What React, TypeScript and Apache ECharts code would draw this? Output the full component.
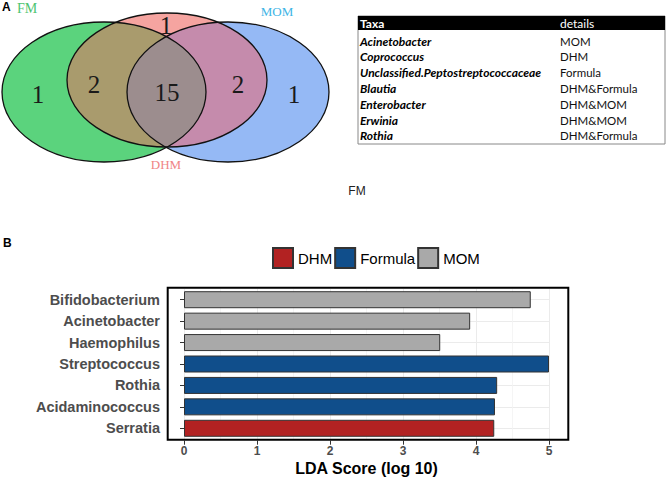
import React, { useEffect, useRef } from "react";
import * as echarts from "echarts";

// ---------- Data ----------
const taxa = ["Bifidobacterium", "Acinetobacter", "Haemophilus", "Streptococcus", "Rothia", "Acidaminococcus", "Serratia"];
const taxaGroup = ["MOM", "MOM", "MOM", "Formula", "Formula", "Formula", "DHM"];
const ldaScores = [4.75, 3.92, 3.51, 5.0, 4.29, 4.26, 4.25];
const groups = ["DHM", "Formula", "MOM"];
const groupColors = ["#B22222", "#104E8B", "#A9A9A9"];
const xTicks = [0, 1, 2, 3, 4, 5];

const tableTaxa = ["Acinetobacter", "Coprococcus", "Unclassified.Peptostreptococcaceae", "Blautia", "Enterobacter", "Erwinia", "Rothia"];
const tableDetails = ["MOM", "DHM", "Formula", "DHM&Formula", "DHM&MOM", "DHM&MOM", "DHM&Formula"];
const tableHeader = ["Taxa", "details"];

const vennSets = ["FM", "DHM", "MOM"];
const vennCounts = { fmOnly: 1, fmDhm: 2, all: 15, dhmMom: 2, momOnly: 1, dhmOnly: 1 };

// ---------- Venn geometry helpers ----------
type Ell = { cx: number; cy: number; rx: number; ry: number };
const EG: Ell = { cx: 104, cy: 92, rx: 102, ry: 70 }; // FM
const EP: Ell = { cx: 167, cy: 80, rx: 100, ry: 67 }; // DHM
const EB: Ell = { cx: 228, cy: 92, rx: 101, ry: 70 }; // MOM

function inside(e: Ell, p: number[]) {
  const dx = (p[0] - e.cx) / e.rx;
  const dy = (p[1] - e.cy) / e.ry;
  return dx * dx + dy * dy <= 1.0000001;
}
function boundary(e: Ell, n = 720) {
  const pts: number[][] = [];
  for (let i = 0; i < n; i++) {
    const t = (i / n) * Math.PI * 2;
    pts.push([e.cx + e.rx * Math.cos(t), e.cy + e.ry * Math.sin(t)]);
  }
  return pts;
}
function intersection(list: Ell[]) {
  let pts: number[][] = [];
  list.forEach((e, i) => {
    const others = list.filter((_, j) => j !== i);
    boundary(e).forEach((p) => {
      if (others.every((o) => inside(o, p))) pts.push(p);
    });
  });
  const mx = pts.reduce((s, p) => s + p[0], 0) / pts.length;
  const my = pts.reduce((s, p) => s + p[1], 0) / pts.length;
  pts = pts.sort((a, b) => Math.atan2(a[1] - my, a[0] - mx) - Math.atan2(b[1] - my, b[0] - mx));
  return pts;
}

function ellipseEl(e: Ell, fill: string, stroke: string | null) {
  return {
    type: "ellipse",
    shape: { cx: e.cx, cy: e.cy, rx: e.rx, ry: e.ry },
    style: stroke ? { fill: "none", stroke, lineWidth: 1.3 } : { fill },
    silent: true,
  };
}
function txt(text: string, x: number, y: number, font: string, fill: string, align = "center") {
  return {
    type: "text",
    x,
    y,
    silent: true,
    style: { text, font, fill, textAlign: align, textVerticalAlign: "middle", align, verticalAlign: "middle" },
  };
}

// half-band positions for the horizontal grid lines at category centres
const halfBands = Array.from({ length: taxa.length * 2 + 1 }, (_, i) => String(i));

export default function App() {
  const ref = useRef<HTMLDivElement>(null);
  useEffect(() => {
    if (!ref.current) return;
    const chart = echarts.init(ref.current, undefined, { renderer: "svg" });

    const serif = "25px 'Liberation Serif', 'Times New Roman', serif";
    const lbl = "13px 'Liberation Serif', 'Times New Roman', serif";
    const venn: any[] = [
      ellipseEl(EG, "#5BD37D", null),
      ellipseEl(EB, "#95B9F5", null),
      ellipseEl(EP, "#F5A4A0", null),
      { type: "polygon", silent: true, shape: { points: intersection([EG, EP]) }, style: { fill: "#A99B6D" } },
      { type: "polygon", silent: true, shape: { points: intersection([EB, EP]) }, style: { fill: "#C58BAC" } },
      { type: "polygon", silent: true, shape: { points: intersection([EG, EB, EP]) }, style: { fill: "#9C8D8E" } },
      ellipseEl(EG, "", "#111"),
      ellipseEl(EB, "", "#111"),
      ellipseEl(EP, "", "#111"),
      txt(String(vennCounts.fmOnly), 38, 94, serif, "#1a1a1a"),
      txt(String(vennCounts.fmDhm), 94, 84, serif, "#1a1a1a"),
      txt(String(vennCounts.all), 167, 92, serif, "#1a1a1a"),
      txt(String(vennCounts.dhmMom), 238, 84, serif, "#1a1a1a"),
      txt(String(vennCounts.momOnly), 294, 94, serif, "#1a1a1a"),
      txt(String(vennCounts.dhmOnly), 166, 25, serif, "#1a1a1a"),
      txt(vennSets[0], 17, 8, "14px 'Liberation Serif', 'Times New Roman', serif", "#4CC470", "left"),
      txt(vennSets[1], 166, 164, lbl, "#F08585"),
      txt(vennSets[2], 277, 11, lbl, "#3DB5E6"),
      txt("A", 2, 7, "bold 12px 'Liberation Sans', Arial, sans-serif", "#000", "left"),
      txt("B", 3, 243, "bold 12px 'Liberation Sans', Arial, sans-serif", "#000", "left"),
      txt("FM", 357, 191, "12px 'Liberation Sans', Arial, sans-serif", "#222"),
    ];

    const tX = 358, tY = 16, tW = 307, headH = 14, rowH = 15.8;
    const table: any[] = [
      { type: "rect", silent: true, shape: { x: tX, y: tY, width: tW, height: 128 }, style: { fill: "#fff", stroke: "#888", lineWidth: 1 } },
      { type: "rect", silent: true, shape: { x: tX, y: tY, width: tW, height: headH }, style: { fill: "#000" } },
      txt(tableHeader[0], 360, tY + 7.5, "bold 12px Lato, sans-serif", "#fff", "left"),
      txt(tableHeader[1], 560, tY + 7.5, "12px Lato, sans-serif", "#fff", "left"),
    ];
    tableTaxa.forEach((t, i) => {
      const y = 41 + i * rowH;
      table.push(txt(t, 360, y, "italic bold 12px Lato, sans-serif", "#000", "left"));
      table.push(txt(tableDetails[i], 560, y, "11.5px Lato, sans-serif", "#111", "left"));
    });

    const font = "'Liberation Sans', Arial, Helvetica, sans-serif";
    const barSeries: any[] = groups.map((g, gi) => ({
      name: g,
      type: "bar",
      stack: "lda",
      barWidth: 17,
      z: 3,
      itemStyle: { color: groupColors[gi], borderColor: "#333", borderWidth: 1 },
      data: ldaScores.map((v, i) => (taxaGroup[i] === g ? v : null)),
    }));

    chart.setOption({
      animation: false,
      backgroundColor: "#fff",
      legend: {
        data: groups,
        left: 272,
        top: 247,
        padding: 0,
        itemWidth: 20,
        itemHeight: 20,
        itemGap: 2,
        icon: "rect",
        selectedMode: false,
        textStyle: { fontSize: 15, color: "#000", fontFamily: font },
      },
      grid: { left: 184, top: 289, width: 365, height: 150, containLabel: false },
      xAxis: {
        type: "value",
        min: xTicks[0],
        max: xTicks[xTicks.length - 1],
        interval: 1,
        offset: 1.7,
        axisLine: { show: false },
        axisTick: { show: true, length: 4, lineStyle: { color: "#333" } },
        axisLabel: { color: "#4d4d4d", fontWeight: "bold", fontSize: 12, margin: 4, fontFamily: font },
        splitLine: { show: true, lineStyle: { color: "#ebebeb", width: 1 } },
        minorTick: { show: false, splitNumber: 2 },
        minorSplitLine: { show: true, lineStyle: { color: "#f2f2f2", width: 0.8 } },
        name: "LDA Score (log 10)",
        nameLocation: "middle",
        nameGap: 20,
        nameTextStyle: { fontSize: 16, fontWeight: "bold", color: "#000", fontFamily: font },
      },
      yAxis: [
        {
          type: "category",
          data: taxa,
          inverse: true,
          offset: 17,
          axisLine: { show: false },
          axisTick: { show: true, alignWithLabel: true, length: 4, lineStyle: { color: "#333" } },
          axisLabel: { color: "#4d4d4d", fontWeight: "bold", fontSize: 14.5, margin: 7, fontFamily: font },
          splitLine: { show: false },
        },
        {
          type: "category",
          data: halfBands,
          boundaryGap: false,
          position: "left",
          axisLine: { show: false },
          axisTick: { show: false },
          axisLabel: { show: false },
          splitLine: {
            show: true,
            interval: (i: number) => i % 2 === 1,
            lineStyle: { color: "#ebebeb", width: 1 },
          },
        },
      ],
      series: [...barSeries],
      graphic: [
        ...venn,
        ...table,
        {
          type: "rect",
          silent: true,
          z: 100,
          shape: { x: 167.7, y: 287.7, width: 400.6, height: 152 },
          style: { fill: "none", stroke: "#000", lineWidth: 2 },
        },
      ],
    });
    return () => chart.dispose();
  }, []);
  return <div ref={ref} style={{ position: "fixed", left: 0, top: 0, width: 666, height: 484 }} />;
}
